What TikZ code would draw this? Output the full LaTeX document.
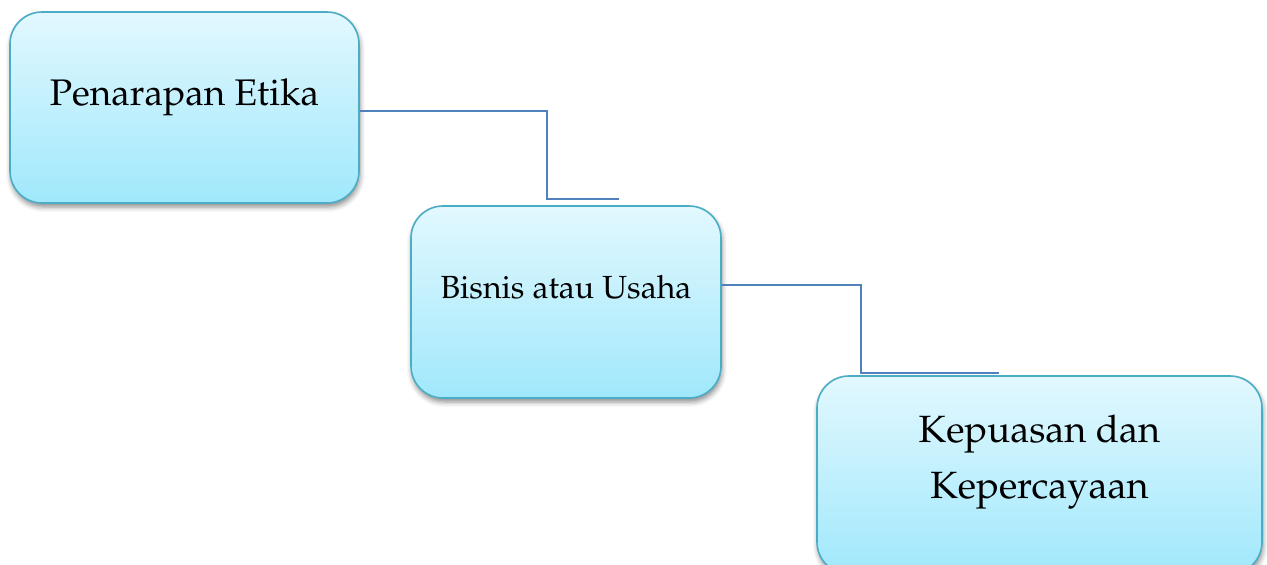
\documentclass[tikz,border=0pt]{standalone}
\usepackage[T1]{fontenc}
\usepackage{mathpazo}
\usetikzlibrary{shadows.blur}
\definecolor{boxtop}{RGB}{226,248,254}
\definecolor{boxbot}{RGB}{160,232,252}
\definecolor{boxline}{RGB}{75,172,198}
\definecolor{connline}{RGB}{79,129,189}
\tikzset{
  box/.style={rectangle, rounded corners=32pt, draw=boxline, line width=1.6pt,
    top color=boxtop, bottom color=boxbot, inner sep=0pt,
    blur shadow={shadow xshift=1pt, shadow yshift=-4pt, shadow blur radius=5pt, shadow opacity=45}},
  conn/.style={draw=connline, line width=1.8pt},
  lbl/.style={anchor=base, inner sep=0pt, text=black}
}
\begin{document}
\begin{tikzpicture}[x=1pt,y=-1pt]
\useasboundingbox (0,0) rectangle (1267,565);
\node[box, minimum width=349pt, minimum height=191pt] (b1) at (184.5,107.5) {};
\node[box, minimum width=310pt, minimum height=192pt] (b2) at (566,302) {};
\node[box, minimum width=445pt, minimum height=198pt] (b3) at (1039.5,475) {};
\node[lbl, font=\fontsize{37}{44}\selectfont] (t1) at (184.5,105) {Penarapan Etika};
\node[lbl, font=\fontsize{32}{38}\selectfont] (t2) at (566,298) {Bisnis atau Usaha};
\node[lbl, font=\fontsize{38}{46}\selectfont] (t3a) at (1039.5,442) {Kepuasan dan};
\node[lbl, font=\fontsize{38}{46}\selectfont] (t3b) at (1039.5,498) {Kepercayaan};
\coordinate (e1) at (619,199);
\coordinate (e2) at (999,373);
\draw[conn] ([yshift=-3.5pt]b1.east) -- ++(187,0) |- (e1);
\draw[conn] ([yshift=17pt]b2.east) -- ++(139,0) |- (e2);
\end{tikzpicture}
\end{document}
